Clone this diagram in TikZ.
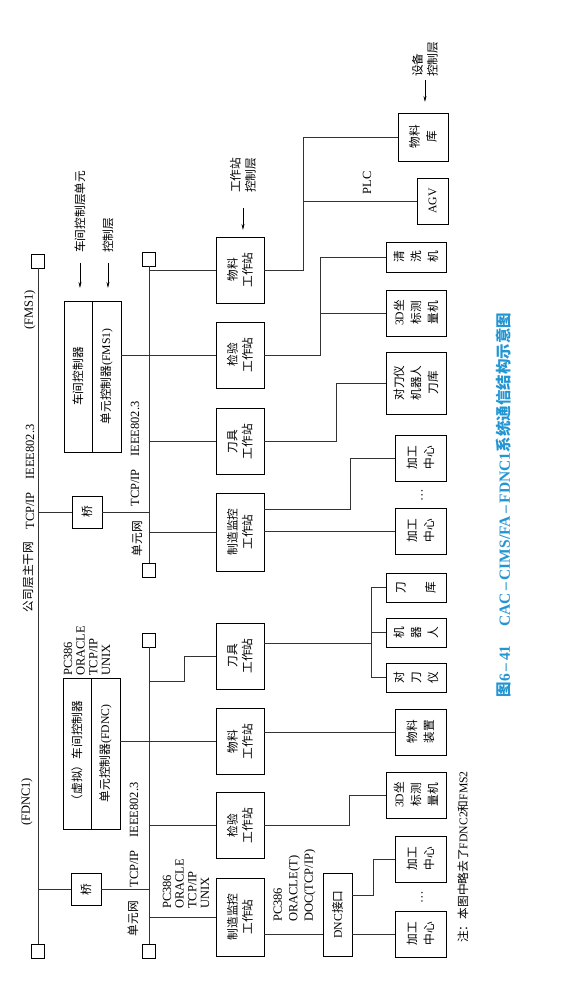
\documentclass[tikz,border=0pt]{standalone}
\usepackage{fontspec}
\setmainfont{Liberation Serif}
\newfontfamily\cjk{Noto Sans CJK SC}
\usetikzlibrary{arrows.meta, positioning}
\definecolor{capblue}{RGB}{35, 150, 210}
\newcommand\en[1]{{\rmfamily #1}}

\begin{document}
\begin{tikzpicture}[x=1pt, y=1pt, rotate=90, transform shape,
  cjkfont/.style={font=\cjk\fontsize{11.7}{15}\selectfont, inner sep=0pt, align=center},
  latin/.style={font=\fontsize{12.5}{12.7}\selectfont, inner sep=0pt, align=left},
  box/.style={draw=black, line width=0.9pt, inner sep=0pt, cjkfont},
  wsbox/.style={box, minimum width=66, minimum height=48},
  devbox/.style={box, minimum width=46, minimum height=60, font=\cjk\fontsize{11.7}{17}\selectfont},
  term/.style={draw=black, line width=0.9pt, minimum width=14, minimum height=13, inner sep=0pt},
  link/.style={draw=black!80, line width=0.6pt},
  layer/.style={-{Stealth[length=6pt, width=3pt]}, line width=0.6pt}]
  \useasboundingbox (0,0) rectangle (985,568);

  % Company backbone
  \node[term] (bbR) at (724, 530) {};
  \node[term] (bbL) at (34, 530) {};
  \draw[link] (bbR.west) -- (bbL.east);
  \node[cjkfont] (bbName) at (408, 540) {公司层主干网};
  \node[latin] (bbProto) at (508, 538) {TCP/IP\quad IEEE802.3};
  \node[latin] (bbFms) at (675, 538) {(FMS1)};
  \node[latin] (bbFdnc) at (183, 541) {(FDNC1)};

  % Unit nets
  \node[term] (fmsR) at (726, 419) {};
  \node[term] (fmsL) at (414.5, 419) {};
  \draw[link] (fmsR.west) -- (fmsL.east);
  \node[term] (fdncR) at (345, 419) {};
  \node[term] (fdncL) at (34, 419) {};
  \draw[link] (fdncR.west) -- (fdncL.east);
  \node[latin] (fmsProto) at (531, 433) {TCP/IP\quad IEEE802.3};
  \node[cjkfont] (fmsName) at (446.5, 431) {单元网};
  \node[latin] (fdncProto) at (150, 434) {TCP/IP\quad IEEE802.3};
  \node[cjkfont] (fdncName) at (66.5, 435) {单元网};

  % Bridges
  \node[box, minimum width=32, minimum height=30] (brA) at (473, 481) {桥};
  \node[box, minimum width=32, minimum height=30] (brB) at (95.5, 482) {桥};
  \draw[link] (brA.north) -- (brA.north |- bbR);
  \draw[link] (brA.south) -- (brA.south |- fmsR);
  \draw[link] (brB.north) -- (brB.north |- bbR);
  \draw[link] (brB.south) -- (brB.south |- fdncR);

  % Cell controllers
  \node[box, minimum width=151, minimum height=57] (ctrlA) at (608.5, 475.5) {};
  \draw[line width=0.6pt] (ctrlA.west) -- (ctrlA.east);
  \node[cjkfont] (ctrlAup) at (608.5, 490) {车间控制器};
  \node[cjkfont] (ctrlAlow) at (608.5, 461.5) {单元控制器\en{(FMS1)}};
  \node[box, minimum width=151, minimum height=57] (ctrlB) at (231.5, 476.5) {};
  \draw[line width=0.6pt] (ctrlB.west) -- (ctrlB.east);
  \node[cjkfont] (ctrlBup) at (231.5, 491) {（虚拟）车间控制器};
  \node[cjkfont] (ctrlBlow) at (231.5, 462.5) {单元控制器\en{(FDNC)}};
  \node[latin, anchor=west] (ctrlBsys) at (309, 481) {PC386\\ORACLE\\TCP/IP\\UNIX};

  % Workstations
  \node[wsbox] (wsA) at (715, 328) {物料\\工作站};
  \node[wsbox] (wsB) at (630, 328) {检验\\工作站};
  \node[wsbox] (wsC) at (543.5, 328) {刀具\\工作站};
  \node[wsbox, minimum width=78] (wsD) at (453, 328) {制造监控\\工作站};
  \node[wsbox] (wsE) at (329, 328) {刀具\\工作站};
  \node[wsbox] (wsF) at (243.5, 328) {物料\\工作站};
  \node[wsbox] (wsG) at (159.5, 328) {检验\\工作站};
  \node[wsbox, minimum width=78] (wsH) at (68, 328) {制造监控\\工作站};
  \node[latin, anchor=west] (wsHsys) at (76, 382) {PC386\\ORACLE\\TCP/IP\\UNIX};

  \draw[link] (wsA.north |- fmsR) -- (wsA.north);
  \draw[link] (wsB.north |- ctrlA.south) -- (wsB.north);
  \draw[link] (wsC.north |- fmsR) -- (wsC.north);
  \draw[link] (wsD.north |- fmsR) -- (wsD.north);
  \coordinate (busF) at (304, 384);
  \draw[link] (busF |- fdncR) -- (busF) -- (busF -| wsE) -- (wsE.north);
  \draw[link] (wsF.north |- ctrlB.south) -- (wsF.north);
  \draw[link] (wsG.north |- fdncR) -- (wsG.north);
  \draw[link] (wsH.north |- fdncR) -- (wsH.north);

  % Devices (FMS1)
  \node[devbox, minimum width=48, minimum height=50] (devLib) at (848, 145) {物料\\库};
  \node[devbox, minimum width=46, minimum height=31] (devAGV) at (784, 135.5) {\en{AGV}};
  \node[latin] (plc) at (802, 201) {PLC};
  \node[devbox, minimum width=30] (devWash) at (728, 152) {清\\洗\\机};
  \node[devbox] (devCMM) at (672, 152) {\en{3D}坐\\标测\\量机};
  \node[devbox, minimum width=62] (devTool) at (602, 152) {对刀仪\\机器人\\刀库};
  \node[devbox, minimum height=51] (devMCa) at (527, 147.5) {加工\\中心};
  \node[latin] (dotsA) at (490, 146) {…};
  \node[devbox, minimum height=51] (devMCb) at (454, 147.5) {加工\\中心};

  \coordinate (busA) at (715, 265);
  \draw[link] (wsA.south) -- (busA) -- (busA -| devLib) -- (devLib.north);
  \draw[link] (devAGV.north) -- (devAGV.north |- busA);
  \coordinate (busB) at (630, 248);
  \draw[link] (wsB.south) -- (busB) -- (busB -| devWash) -- (devWash.north);
  \draw[link] (devCMM.north) -- (devCMM.north |- busB);
  \coordinate (busC) at (543.5, 232);
  \draw[link] (wsC.south) -- (busC) -- (busC -| devTool) -- (devTool.north);
  \draw[link] (devMCb.north) -- (devMCb.north |- wsD.south);
  \coordinate (busD) at (476, 218);
  \draw[link] (busD |- wsD.south) -- (busD) -- (busD -| devMCa) -- (devMCa.north);

  % Devices (FDNC)
  \node[devbox, minimum width=29] (devMagB) at (397.5, 152) {刀\\[13pt]库};
  \node[devbox, minimum width=29] (devRobB) at (352.5, 152) {机\\器\\人};
  \node[devbox, minimum width=29] (devPreB) at (307.5, 152) {对\\刀\\仪};
  \node[devbox, minimum height=51] (devMatB) at (253, 147.5) {物料\\装置};
  \node[devbox] (devCMMb) at (190, 152) {\en{3D}坐\\标测\\量机};
  \node[devbox, minimum height=51] (devMCc) at (126, 147.5) {加工\\中心};
  \node[latin] (dotsB) at (88, 146) {…};
  \node[devbox, minimum height=51] (devMCd) at (51, 147.5) {加工\\中心};
  \node[box, minimum width=83, minimum height=29] (dnc) at (70.5, 230.5) {\en{DNC}接口};
  \node[latin, anchor=west, font=\fontsize{12.5}{15.5}\selectfont] (dncSys) at (63, 273.5) {PC386\\ORACLE(T)\\DOC(TCP/IP)};

  \coordinate (busE) at (342, 197);
  \draw[link] (busE |- wsE.south) -- (busE);
  \draw[link] (devPreB.north) -- (devPreB.north |- busE) -- (devMagB.north |- busE) -- (devMagB.north);
  \draw[link] (devRobB.north) -- (devRobB.north |- busE);
  \draw[link] (devMatB.north) -- (devMatB.north |- wsF.south);
  \coordinate (busG) at (159.5, 219);
  \draw[link] (wsG.south) -- (busG) -- (busG -| devCMMb) -- (devCMMb.north);
  \draw[link] (devMCd.north |- wsH.south) -- (devMCd.north |- dnc.north);
  \draw[link] (devMCd.north |- dnc.south) -- (devMCd.north);
  \coordinate (busH) at (90, 195);
  \draw[link] (busH |- dnc.south) -- (busH) -- (busH -| devMCc) -- (devMCc.north);

  % Layer labels
  \node[cjkfont, anchor=west, align=left] (lyrDev) at (908, 143) {设备\\控制层};
  \coordinate (lyrDevTip) at (883, 143);
  \draw[layer, shorten <=3pt] (lyrDev.west) -- (lyrDevTip);
  \node[cjkfont, anchor=west, align=left] (lyrWs) at (792, 325) {工作站\\控制层};
  \coordinate (lyrWsTip) at (755, 325);
  \draw[layer, shorten <=15pt] (lyrWs.west) -- (lyrWsTip);
  \node[cjkfont, anchor=west] (lyrShop) at (732, 488) {车间控制层单元};
  \coordinate (lyrShopTip) at (697, 488);
  \draw[layer, shorten <=10pt] (lyrShop.west) -- (lyrShopTip);
  \node[cjkfont, anchor=west] (lyrCell) at (732, 460) {控制层};
  \coordinate (lyrCellTip) at (697, 460);
  \draw[layer, shorten <=10pt] (lyrCell.west) -- (lyrCellTip);

  % Note and caption
  \node[cjkfont, anchor=west] (note) at (42, 105) {注：本图中略去了\en{FDNC2}和\en{FMS2}};
  \node[font=\cjk\bfseries\fontsize{15.5}{15.5}\selectfont, text=capblue, inner sep=0pt] (caption) at (480, 64)
    {图\en{6\,–\,41}\hspace{1.2em}\en{CAC\,–\,CIMS/FA\,–\,FDNC1}系统通信结构示意图};
\end{tikzpicture}
\end{document}
